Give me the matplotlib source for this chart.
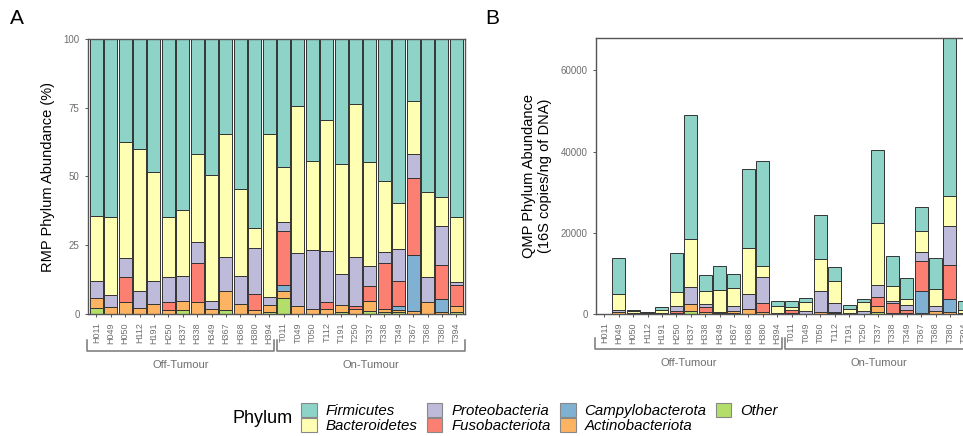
import numpy as np
import matplotlib
matplotlib.use("Agg")
from matplotlib import pyplot as plt
from matplotlib.patches import Patch

plt.rcParams['font.family'] = ['Liberation Sans', 'DejaVu Sans']

samples = ["H011", "H049", "H050", "H112", "H191", "H250", "H337", "H338", "H349",
           "H367", "H368", "H380", "H394",
           "T011", "T049", "T050", "T112", "T191", "T250", "T337", "T338", "T349",
           "T367", "T368", "T380", "T394"]

# relative abundance (%), one list per phylum, stacked bottom -> top
other = [2.1, 0, 0, 0, 0, 0, 1.5, 0, 0, 1.5, 0, 0, 0.8,
         5.9, 0, 0, 0, 0.6, 0, 1.2, 0.6, 0.6, 0, 0, 0, 0.8]
actino = [3.6, 2.7, 4.2, 2.2, 3.5, 1.5, 3.3, 4.5, 1.8, 6.7, 3.7, 1.5, 2.5,
          2.3, 3.0, 1.8, 1.8, 2.8, 1.8, 3.4, 1.2, 1.0, 1.1, 4.5, 0.8, 2.0]
campy = [0, 0, 0, 0, 0, 0, 0, 0, 0, 0, 0, 0, 0,
         2.3, 0, 0, 0, 0, 0, 0, 0, 1.2, 20.4, 0, 4.6, 0]
fuso = [0, 0, 9.1, 0, 0, 2.7, 0, 13.9, 0, 0, 0, 5.6, 0,
        19.6, 0, 0, 2.7, 0, 1.2, 5.7, 16.6, 9.1, 28.1, 0, 12.5, 7.7]
proteo = [6.4, 4.3, 6.9, 6.3, 8.4, 9.3, 8.9, 7.8, 3.0, 12.4, 10.0, 17.0, 3.0,
          3.3, 19.1, 21.4, 18.5, 11.0, 17.6, 7.2, 4.3, 11.9, 8.7, 9.0, 14.1, 1.0]
bacter = [23.6, 28.3, 42.3, 51.4, 39.9, 21.9, 24.1, 32.1, 45.7, 44.9, 31.8, 7.0, 59.0,
          20.2, 53.5, 32.5, 47.5, 40.0, 55.7, 37.9, 25.7, 16.7, 19.1, 30.9, 10.6, 23.6]
firmi = [64.3, 64.7, 37.5, 40.1, 48.2, 64.6, 62.2, 41.7, 49.5, 34.5, 54.5, 68.9, 34.7,
         46.4, 24.4, 44.3, 29.5, 45.6, 23.7, 44.6, 51.6, 59.5, 22.6, 55.6, 57.4, 64.9]

# total 16S copies/ng of DNA (QMP bar heights)
total_load = [100, 13700, 1000, 400, 1800, 15100, 49100, 9700, 11900, 9900, 35800, 37700, 3100,
              3100, 3900, 24300, 11700, 2100, 3800, 40400, 14200, 8900, 26300, 13800, 68000, 3100]

phyla = ["Other", "Actinobacteriota", "Campylobacterota", "Fusobacteriota",
         "Proteobacteria", "Bacteroidetes", "Firmicutes"]
layers = [other, actino, campy, fuso, proteo, bacter, firmi]
colors = ["#B3DE69", "#FDB462", "#80B1D3", "#FB8072", "#BEBADA", "#FFFFB3", "#8DD3C7"]

grey = "#555555"
txtgrey = "#6e6e6e"

fig = plt.figure(figsize=(9.63, 4.36), dpi=100)
axA = fig.add_axes([88/963, 1 - 314/436, (465 - 88)/963, 275/436])
axB = fig.add_axes([596/963, 1 - 314/436, (973 - 596)/963, 276/436])

x = np.arange(len(samples))
pct = np.array(layers, dtype=float)
qmp = pct / pct.sum(axis=0) * np.array(total_load)


def stacked(ax, data):
    bottom = np.zeros(len(samples))
    for vals, col in zip(data, colors):
        ax.bar(x, vals, bottom=bottom, width=0.9, color=col,
               edgecolor="#333333", linewidth=0.7)
        bottom += vals


stacked(axA, pct)
stacked(axB, qmp)

for ax in (axA, axB):
    ax.set_xlim(-0.58, 25.6)
    ax.set_xticks(x)
    ax.set_xticklabels(samples, rotation=90, fontsize=6.5, color=txtgrey)
    ax.tick_params(axis="both", colors=grey, length=2.5, width=0.7, labelcolor=txtgrey)
    ax.tick_params(axis="y", labelsize=7)
    for s in ax.spines.values():
        s.set_color(grey)
        s.set_linewidth(1.0)

axA.set_ylim(0, 100)
axA.set_yticks([0, 25, 50, 75, 100])
axA.set_ylabel("RMP Phylum Abundance (%)", fontsize=10.5, labelpad=6)

axB.set_ylim(0, 68000)
axB.set_yticks([0, 20000, 40000, 60000])
axB.set_ylabel("QMP Phylum Abundance\n(16S copies/ng of DNA)", fontsize=10.5, labelpad=6)

# group brackets under the tick labels
groups = [("Off-Tumour", -0.66, 12.36), ("On-Tumour", 12.57, 25.6)]
for ax, yl, yt, ytxt in [(axA, -0.1345, -0.094, -0.185), (axB, -0.127, -0.088, -0.178)]:
    tr = ax.get_xaxis_transform()
    for name, x0, x1 in groups:
        ax.plot([x0, x0, x1, x1], [yt, yl, yl, yt], color="#777777", lw=1.1,
                transform=tr, clip_on=False)
        ax.text((x0 + x1) / 2, ytxt, name, transform=tr, ha="center", va="center",
                fontsize=8, color=txtgrey)

fig.text(10/963, 1 - 18/436, "A", fontsize=15, va="center", ha="left")
fig.text(485/963, 1 - 18/436, "B", fontsize=15, va="center", ha="left")

# legend
order = ["Firmicutes", "Bacteroidetes", "Proteobacteria", "Fusobacteriota",
         "Campylobacterota", "Actinobacteriota", "Other"]
handles = [Patch(facecolor=colors[phyla.index(p)], edgecolor="#888888", linewidth=0.8)
           for p in order]
leg = fig.legend(handles, order, ncol=4, loc="center left",
                 bbox_to_anchor=(301/963, 1 - 418/436), frameon=False,
                 prop={"style": "italic", "size": 10.8}, handlelength=1.05, handleheight=1.05,
                 labelspacing=0.0, columnspacing=0.6, handletextpad=0.6, borderpad=0,
                 borderaxespad=0)
fig.text(232/963, 1 - 418/436, "Phylum", fontsize=13, va="center", ha="left")

fig.savefig("out.png", dpi=100)
